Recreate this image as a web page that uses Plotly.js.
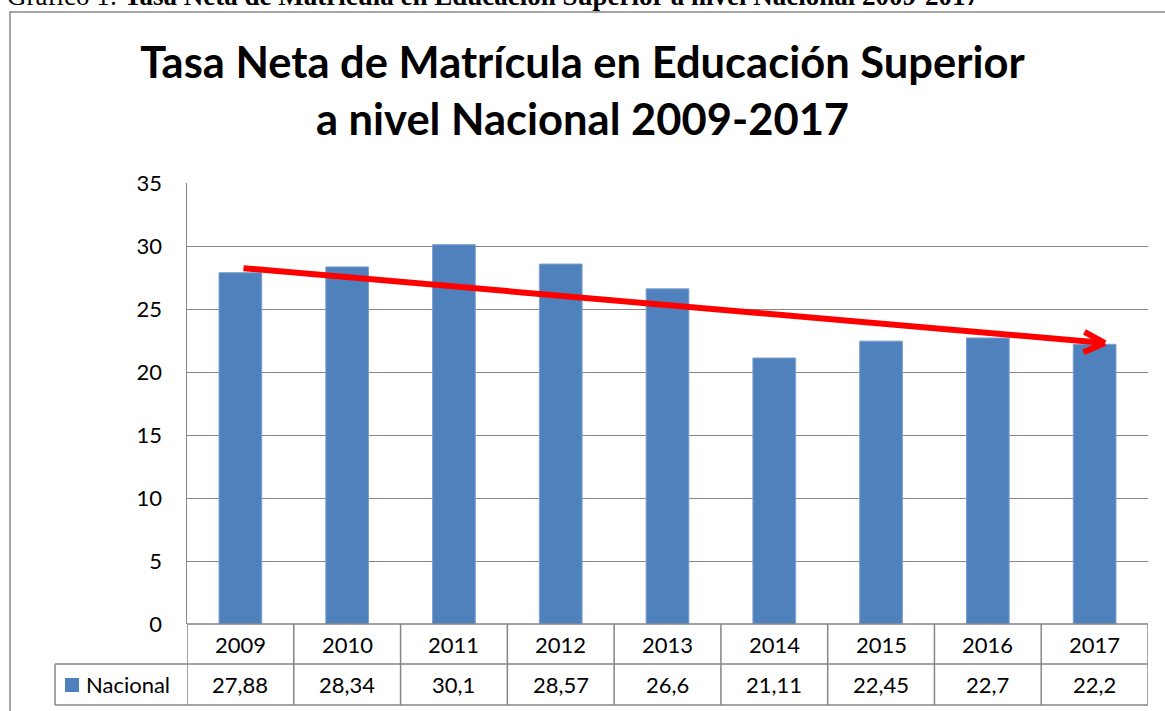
<!DOCTYPE html>
<html>
<head>
<meta charset="utf-8">
<script src="https://cdn.plot.ly/plotly-3.0.1.min.js"></script>
<style>
html,body{margin:0;padding:0;background:#fff;}
#chart{width:1165px;height:711px;}
</style>
</head>
<body>
<div id="chart"></div>
<script>
// ---- data ----
const years = ['2009','2010','2011','2012','2013','2014','2015','2016','2017'];
const nacional = [27.88, 28.34, 30.1, 28.57, 26.6, 21.11, 22.45, 22.7, 22.2];
const yTickVals = [0, 5, 10, 15, 20, 25, 30, 35];
const seriesName = 'Nacional';
const trendStartValue = 28.25;   // hand-drawn trend arrow, start (2009)
const trendEndValue = 22.3;      // hand-drawn trend arrow, tip (2017)
const chartTitle = 'Tasa Neta de Matrícula en Educación Superior<br>a nivel Nacional 2009-2017';
const captionText = 'Gráfico 1: <b>Tasa Neta de Matrícula en Educación Superior a nivel Nacional 2009-2017</b>';

// ---- layout helpers (pixel geometry of plot area) ----
const W = 1165, H = 711;
const L = 187, R = 1148, T = 183, B = 624;
const px = p => (p - L) / (R - L);
const py = p => (B - p) / (B - T);
const GRID = '#868686';
const BAR = '#4F81BD';
const FONT = 'Lato, "Open Sans", sans-serif';

const n = years.length;
const shapes = [];
const annotations = [];

// outer chart frame (extends past the page right/bottom)
shapes.push({type:'rect', xref:'paper', yref:'paper', x0:px(10), x1:px(1200), y0:py(800), y1:py(12),
  line:{color:GRID, width:1.5}, fillcolor:'rgba(0,0,0,0)', layer:'below'});

// data table lines
const rowMid = 664, rowBot = 705;
shapes.push({type:'line', xref:'x', yref:'paper', x0:-0.5, x1:n-0.5, y0:py(B), y1:py(B), line:{color:GRID, width:1.5}});
shapes.push({type:'line', xref:'paper', yref:'paper', x0:px(55), x1:1, y0:py(rowMid), y1:py(rowMid), line:{color:GRID, width:1.5}});
shapes.push({type:'line', xref:'paper', yref:'paper', x0:px(55), x1:1, y0:py(rowBot), y1:py(rowBot), line:{color:GRID, width:1.5}});
shapes.push({type:'line', xref:'paper', yref:'paper', x0:px(55), x1:px(55), y0:py(rowMid), y1:py(rowBot), line:{color:GRID, width:1.5}});
for (let i = 0; i <= n; i++) {
  shapes.push({type:'line', xref:'x', yref:'paper', x0:i-0.5, x1:i-0.5, y0:py(B), y1:py(rowBot), line:{color:GRID, width:1.5}});
}
// legend key square
shapes.push({type:'rect', xref:'paper', yref:'paper', x0:px(65), x1:px(79), y0:py(692), y1:py(678),
  line:{width:0}, fillcolor:BAR});

// table text
years.forEach((yr, i) => {
  annotations.push({xref:'x', yref:'paper', x:i, y:py((B+rowMid)/2), text:yr, showarrow:false,
    xanchor:'center', yanchor:'middle', font:{family:FONT, size:22, color:'#000'}});
  annotations.push({xref:'x', yref:'paper', x:i, y:py((rowMid+rowBot)/2), text:String(nacional[i]).replace('.', ','),
    showarrow:false, xanchor:'center', yanchor:'middle', font:{family:FONT, size:22, color:'#000'}});
});
annotations.push({xref:'paper', yref:'paper', x:px(84), y:py((rowMid+rowBot)/2), text:seriesName, showarrow:false,
  xanchor:'left', yanchor:'middle', font:{family:FONT, size:22, color:'#000'}});

// caption (cut off at top of page)
annotations.push({xref:'paper', yref:'paper', x:px(5), y:py(13), text:captionText, showarrow:false,
  xanchor:'left', yanchor:'bottom', font:{family:'"Liberation Serif", "Times New Roman", serif', size:27, color:'#000'}});

// trend arrow: shaft
const tipX = n - 1 + 0.097, startX = 0.015;
annotations.push({xref:'x', yref:'y', x:tipX, y:trendEndValue, axref:'x', ayref:'y', ax:startX, ay:trendStartValue,
  text:'', showarrow:true, arrowhead:0, arrowwidth:6, arrowcolor:'#FF0000'});
// chevron head
[[-22,-12],[-23,10]].forEach(([dx,dy]) => {
  annotations.push({xref:'x', yref:'y', x:tipX, y:trendEndValue, ax:dx, ay:dy,
    text:'', showarrow:true, arrowhead:0, arrowwidth:6, arrowcolor:'#FF0000', standoff:0});
});

const data = [{
  type:'bar', x:years, y:nacional, name:seriesName,
  marker:{color:BAR, line:{color:'#7DA0CF', width:1}},
  hoverinfo:'skip'
}];

const layout = {
  width:W, height:H,
  margin:{l:L, r:W-R, t:T, b:H-B, pad:0},
  paper_bgcolor:'#fff', plot_bgcolor:'#fff',
  showlegend:false,
  bargap:0.6,
  title:{text:chartTitle, x:0.5, xref:'container', xanchor:'center', y:1-78/H, yref:'container', yanchor:'top',
    font:{family:FONT, size:43.5, color:'#000', weight:700}},
  xaxis:{type:'category', range:[-0.5, n-0.5], showticklabels:false, showgrid:false, zeroline:false,
    showline:false, ticks:'', fixedrange:true},
  yaxis:{range:[0,35], tickvals:yTickVals, showgrid:true, gridcolor:GRID, gridwidth:1, zeroline:false,
    showline:true, linecolor:GRID, linewidth:1.5, ticks:'', ticklabelstandoff:19,
    tickfont:{family:FONT, size:22, color:'#000'}, fixedrange:true},
  shapes:shapes,
  annotations:annotations
};

Plotly.newPlot('chart', data, layout, {displayModeBar:false, staticPlot:true});
</script>
</body>
</html>
